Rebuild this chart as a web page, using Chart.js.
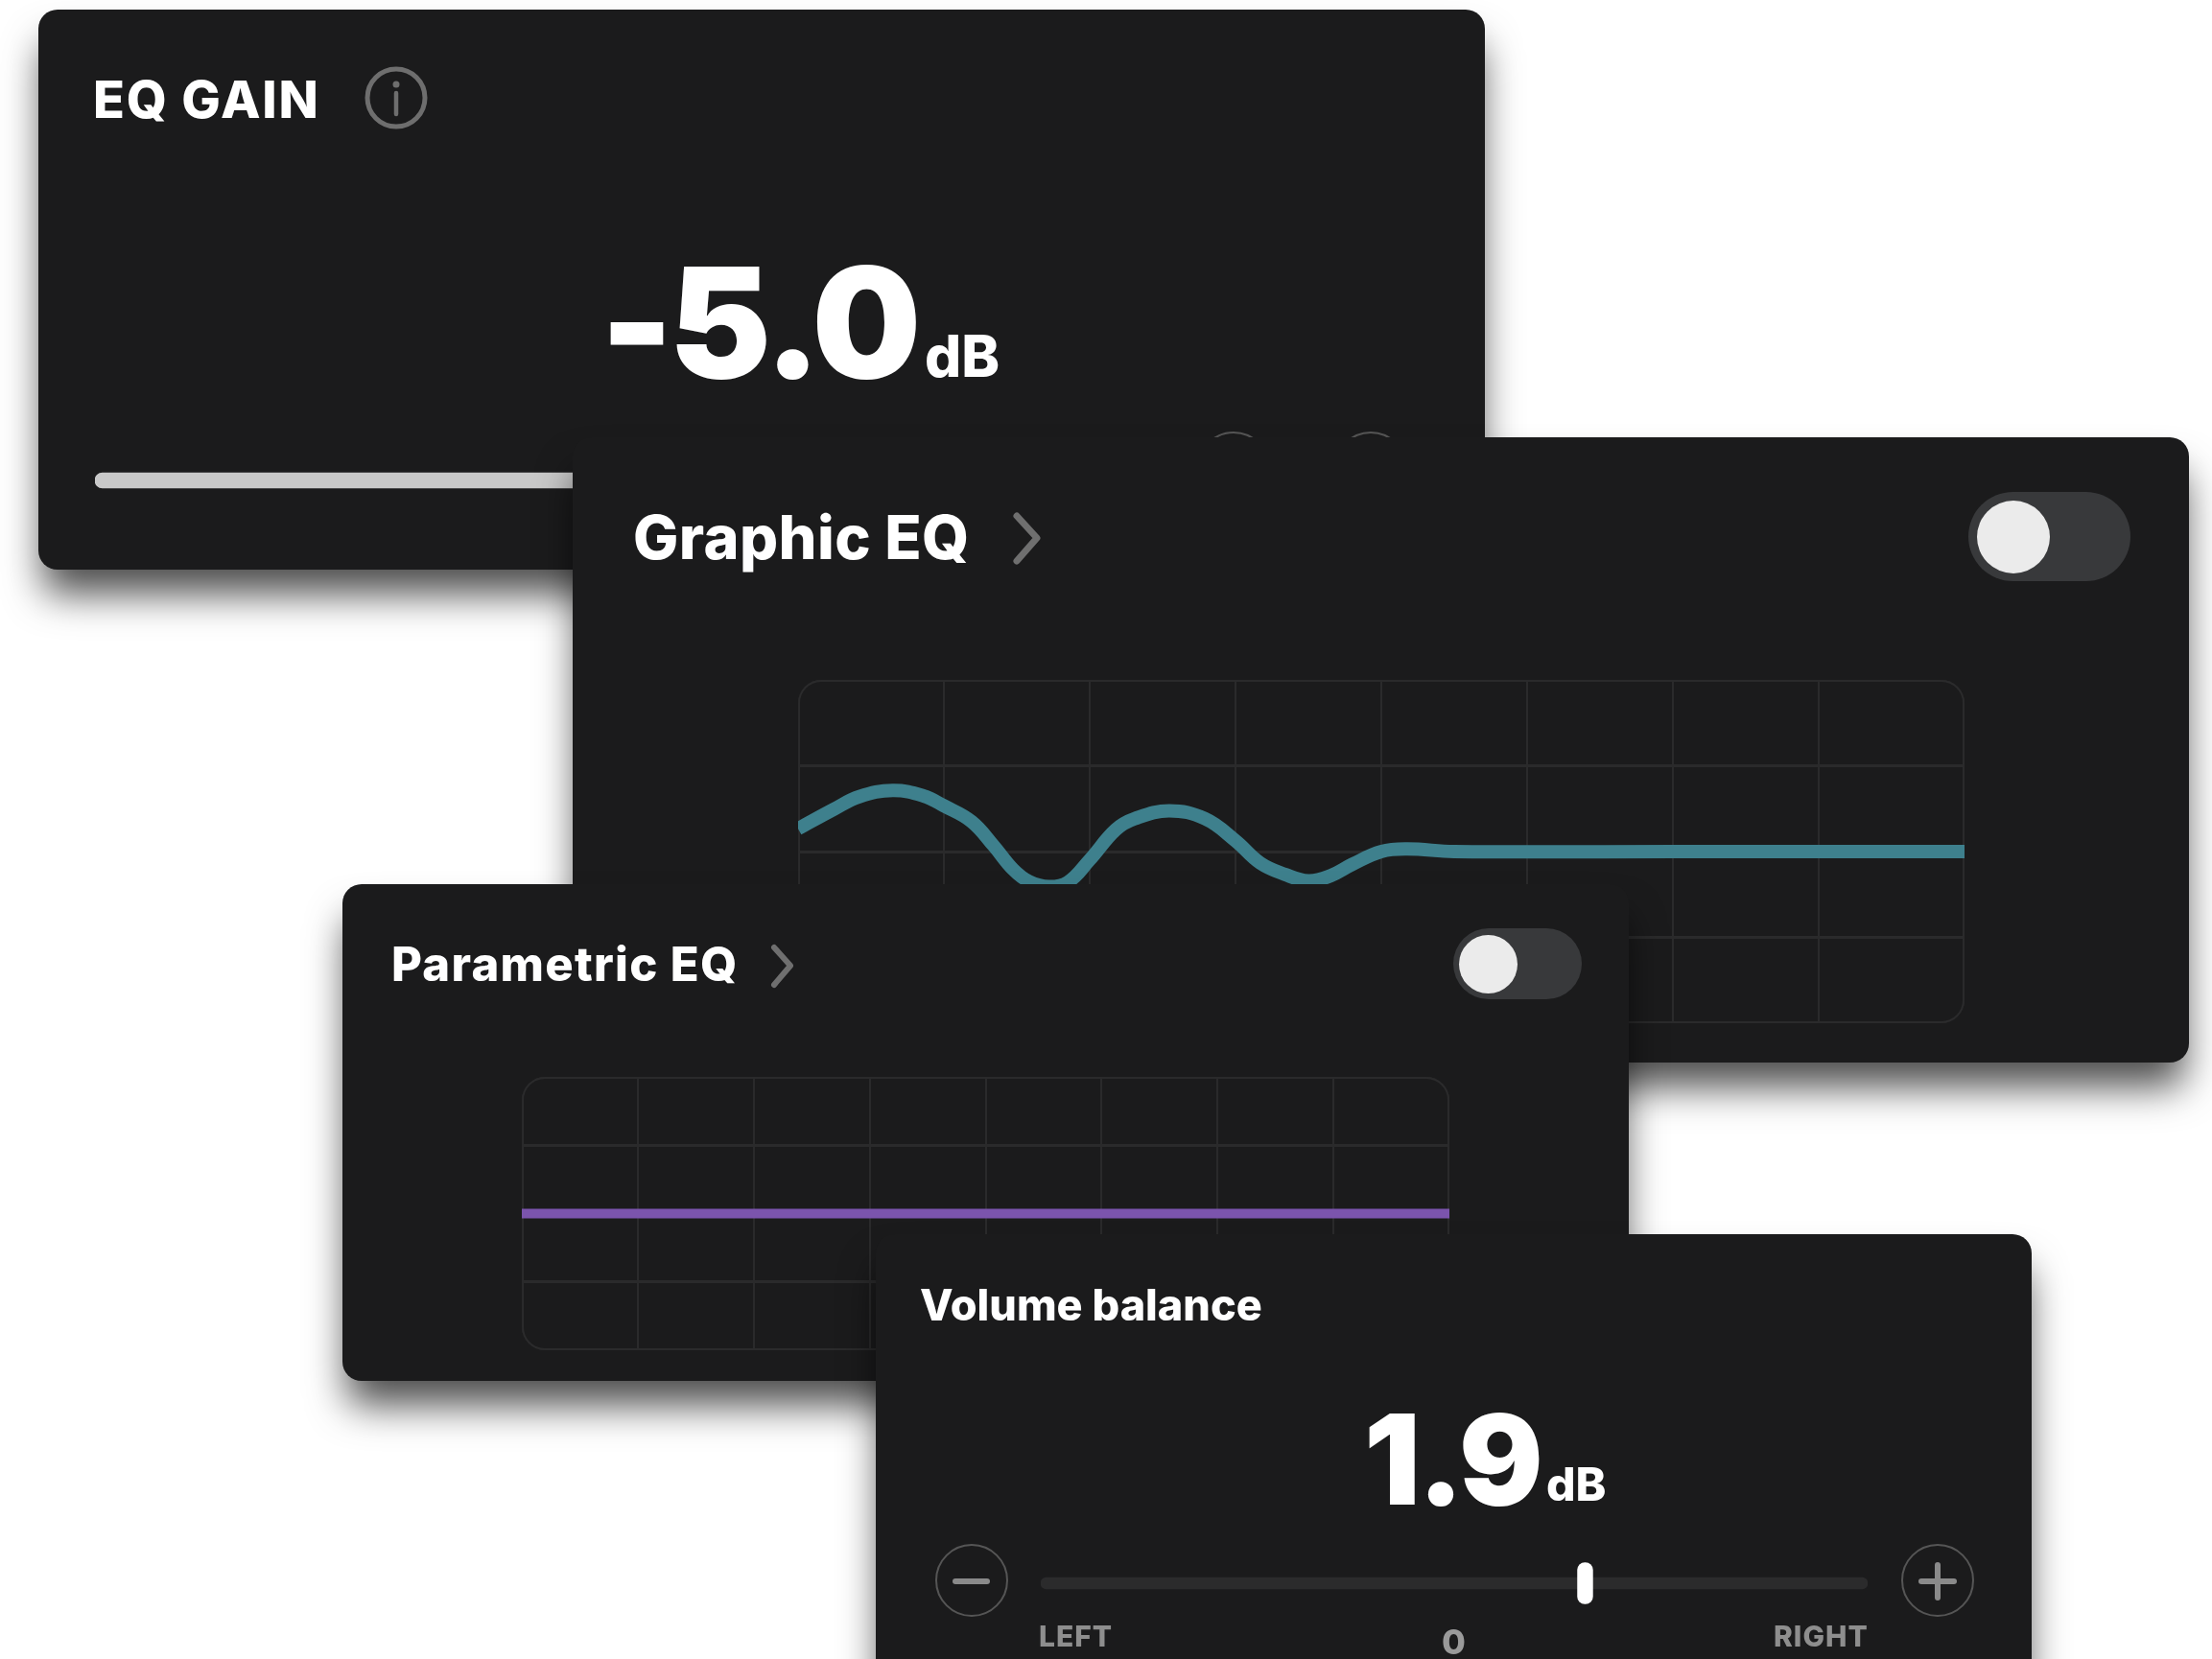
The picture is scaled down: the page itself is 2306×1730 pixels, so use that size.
<!DOCTYPE html>
<html>
<head>
<meta charset="utf-8">
<script src="https://cdn.jsdelivr.net/npm/chart.js@4"></script>
<style>
  html, body { margin: 0; width: 2306px; height: 1730px; background: #fff; overflow: hidden; }
  body { font-family: Inter, "Noto Sans", sans-serif; color: #fff; }
  .card { position: absolute; background: #1b1b1c; border-radius: 20px; box-shadow: 0 30px 40px -5px rgba(0,0,0,.7); }
  .t { position: absolute; line-height: 1; white-space: nowrap; font-weight: 800; }
  .plot { position: absolute; border-radius: 24px; overflow: hidden; box-shadow: inset 0 0 0 2px #2b2b2c; }
  .plot canvas, .strip canvas { display: block; }
  .strip { position: absolute; }
  svg { position: absolute; overflow: visible; }
  .toggle { position: absolute; background: #38393b; border-radius: 50px; }
  .knob { position: absolute; background: #ebebeb; border-radius: 50%; }
</style>
</head>
<body>

<div class="card" style="left:40px;top:10px;width:1508px;height:584px">
  <div class="t" style="left:57px;top:67px;font-size:54px;letter-spacing:1.8px">EQ GAIN</div>
  <svg style="left:0;top:0" width="10" height="10">
    <circle cx="373" cy="92" r="30" fill="none" stroke="#6e6e6e" stroke-width="5"/>
    <circle cx="373" cy="78" r="3.5" fill="#6e6e6e"/>
    <line x1="373" y1="87" x2="373" y2="109" stroke="#6e6e6e" stroke-width="4.5" stroke-linecap="round"/>
    <circle cx="1246" cy="478" r="37" fill="none" stroke="#555" stroke-width="2"/>
    <circle cx="1389" cy="478" r="37" fill="none" stroke="#555" stroke-width="2"/>
  </svg>
  <div class="t" style="left:586px;top:246px;font-size:160px;font-weight:900;letter-spacing:-4.5px">-5.0</div>
  <div class="t" style="left:924px;top:331px;font-size:60px">dB</div>
  <div class="strip" style="left:59px;top:473px"><canvas id="gainSlider" width="1350" height="36"></canvas></div>
</div>

<div class="card" style="left:597px;top:456px;width:1685px;height:652px">
  <div class="t" style="left:63px;top:73px;font-size:63px;letter-spacing:.4px">Graphic EQ</div>
  <svg style="left:0;top:0" width="10" height="10">
    <polyline points="463,82 484,105 463,129" fill="none" stroke="#6f6f6f" stroke-width="7" stroke-linecap="round" stroke-linejoin="round"/>
  </svg>
  <div class="toggle" style="left:1455px;top:57px;width:169px;height:93px"></div>
  <div class="knob" style="left:1464px;top:66px;width:76px;height:76px"></div>
  <div class="plot" style="left:235px;top:253px;width:1216px;height:358px"><canvas id="graphicEq" width="1216" height="358"></canvas></div>
</div>

<div class="card" style="left:357px;top:922px;width:1341px;height:518px">
  <div class="t" style="left:51px;top:59px;font-size:49px;letter-spacing:1.3px">Parametric EQ</div>
  <svg style="left:0;top:0" width="10" height="10">
    <polyline points="450,66 467,85 450,105" fill="none" stroke="#6f6f6f" stroke-width="6" stroke-linecap="round" stroke-linejoin="round"/>
  </svg>
  <div class="toggle" style="left:1158px;top:46px;width:134px;height:74px"></div>
  <div class="knob" style="left:1164px;top:53px;width:61px;height:61px"></div>
  <div class="plot" style="left:187px;top:201px;width:967px;height:285px"><canvas id="parametricEq" width="967" height="285"></canvas></div>
</div>

<div class="card" style="left:913px;top:1287px;width:1205px;height:520px">
  <div class="t" style="left:46px;top:51px;font-size:45px">Volume balance</div>
  <div class="t" style="left:509px;top:170px;font-size:130px;font-weight:900;letter-spacing:-3px">1.9</div>
  <div class="t" style="left:699px;top:237px;font-size:48px">dB</div>
  <svg style="left:0;top:0" width="10" height="10">
    <circle cx="100" cy="361" r="37" fill="none" stroke="#555" stroke-width="2"/>
    <line x1="83" y1="362" x2="116" y2="362" stroke="#8a8a8a" stroke-width="6" stroke-linecap="round"/>
    <circle cx="1107" cy="361" r="37" fill="none" stroke="#555" stroke-width="2"/>
    <line x1="1090" y1="362" x2="1124" y2="362" stroke="#8a8a8a" stroke-width="6" stroke-linecap="round"/>
    <line x1="1107" y1="345" x2="1107" y2="379" stroke="#8a8a8a" stroke-width="6" stroke-linecap="round"/>
  </svg>
  <div class="strip" style="left:172px;top:334px"><canvas id="balanceSlider" width="862" height="60"></canvas></div>
  <div class="t" style="left:170px;top:404px;font-size:30px;color:#8e8e8e;letter-spacing:1px">LEFT</div>
  <div class="t" style="left:590px;top:407px;font-size:36px;color:#9a9a9a">0</div>
  <div class="t" style="left:936px;top:404px;font-size:30px;color:#8e8e8e;letter-spacing:1px">RIGHT</div>
</div>

<script>
// band position (grid columns) and gain in dB
const graphicBands = [0, 0.244, 0.42, 0.65, 0.86, 1, 1.19, 1.34, 1.475, 1.585, 1.72, 1.85, 2, 2.18, 2.31, 2.545, 2.79, 3, 3.17, 3.34, 3.5, 3.65, 3.8, 4, 4.18, 4.5, 6, 8];
const graphicGains = [1.6, 2.95, 3.84, 4.27, 3.89, 3.2, 2.1, 0.42, -1.25, -2.1, -2.45, -2.15, -0.58, 1.54, 2.3, 2.85, 2.3, 0.76, -0.8, -1.6, -2.05, -1.7, -0.9, 0, 0.18, 0, 0, 0];
const parametricBands = [0, 1, 2, 3, 4, 5, 6, 7, 8];
const parametricGains = [0, 0, 0, 0, 0, 0, 0, 0, 0];
const gainRange = [-12, 0];
const eqGain = -5.0;
const balanceRange = [-6, 6];
const balance = 1.9;

const GRID = '#2a2a2b';

function eqChart(id, bands, gains, color, lineWidth) {
  return new Chart(document.getElementById(id), {
    type: 'line',
    data: {
      datasets: [{
        data: bands.map((x, i) => ({ x, y: gains[i] })),
        borderColor: color,
        borderWidth: lineWidth,
        pointRadius: 0,
        tension: 0.4,
      }],
    },
    options: {
      responsive: false,
      animation: false,
      devicePixelRatio: 1,
      layout: { padding: 0 },
      plugins: { legend: { display: false }, tooltip: { enabled: false } },
      scales: {
        x: {
          type: 'linear', min: 0, max: 8,
          ticks: { display: false, stepSize: 1 },
          grid: { color: GRID, lineWidth: 2, drawTicks: false },
          border: { display: false },
        },
        y: {
          min: -12, max: 12,
          ticks: { display: false, stepSize: 6 },
          grid: { color: GRID, lineWidth: 3, drawTicks: false },
          border: { display: false },
        },
      },
    },
  });
}

function sliderChart(id, datasets, range) {
  return new Chart(document.getElementById(id), {
    type: 'bar',
    data: { labels: [''], datasets },
    options: {
      indexAxis: 'y',
      responsive: false,
      animation: false,
      devicePixelRatio: 1,
      layout: { padding: 0 },
      plugins: { legend: { display: false }, tooltip: { enabled: false } },
      scales: {
        x: { display: false, min: range[0], max: range[1] },
        y: { display: false, stacked: true },
      },
    },
  });
}

eqChart('graphicEq', graphicBands, graphicGains, '#3e808d', 14);
eqChart('parametricEq', parametricBands, parametricGains, '#7b54ad', 10);

sliderChart('gainSlider', [{
  data: [[gainRange[0], eqGain]],
  backgroundColor: '#c9c9c9',
  barThickness: 16,
  borderRadius: 8,
  borderSkipped: false,
}], gainRange);

sliderChart('balanceSlider', [
  {
    data: [[balance - 0.11, balance + 0.11]],
    backgroundColor: '#ffffff',
    barThickness: 43,
    borderRadius: 8,
    borderSkipped: false,
    order: 0,
  },
  {
    data: [balanceRange],
    backgroundColor: '#2b2b2c',
    barThickness: 12,
    borderRadius: 6,
    borderSkipped: false,
    order: 1,
  },
], balanceRange);
</script>
</body>
</html>
